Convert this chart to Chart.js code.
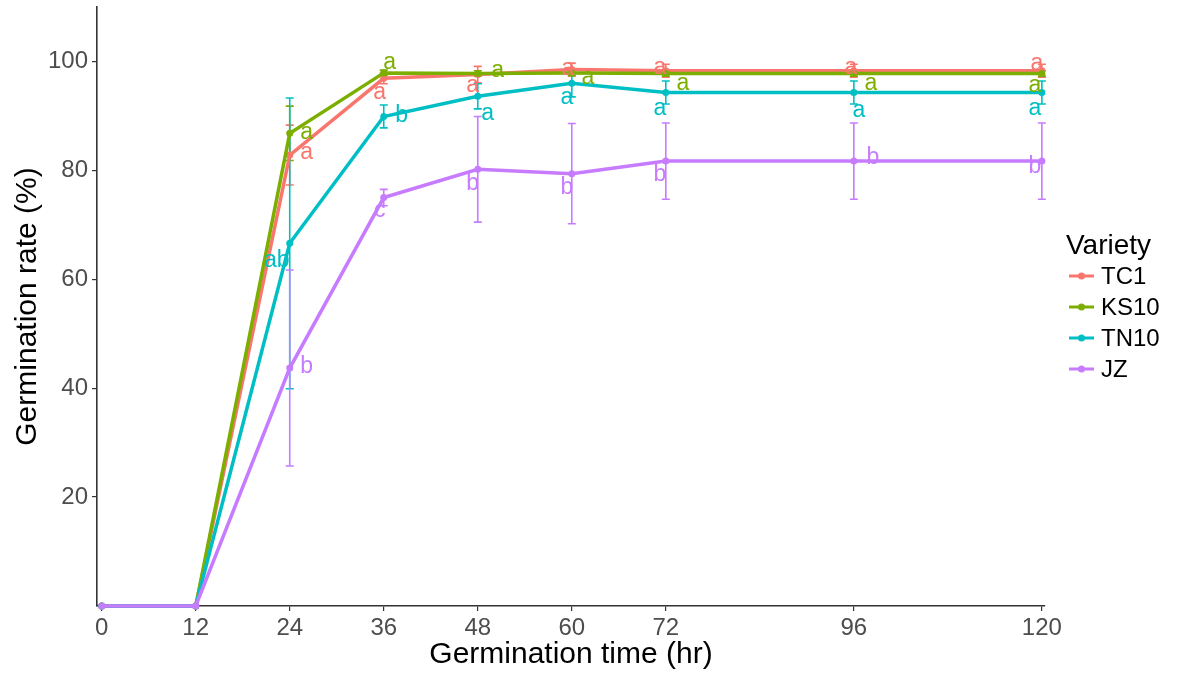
<!DOCTYPE html>
<html>
<head>
<meta charset="utf-8">
<title>Germination rate</title>
<script src="https://cdn.jsdelivr.net/npm/chart.js@4.4.1/dist/chart.umd.min.js"></script>
<style>
  html, body { margin: 0; padding: 0; background: #fff; }
  canvas { display: block; }
</style>
</head>
<body>
<canvas id="germChart" width="1187" height="673"></canvas>
<script>
// germination time (hr) and axis breaks
const hours = [0, 12, 24, 36, 48, 60, 72, 96, 120];
const xTicks = [0, 12, 24, 36, 48, 60, 72, 96, 120];
const yTicks = [20, 40, 60, 80, 100];

const varieties = ['TC1', 'KS10', 'TN10', 'JZ'];

// mean germination rate (%)
const tc1 = [0, 0, 82.8, 96.9, 97.6, 98.5, 98.3, 98.3, 98.3];
const ks10 = [0, 0, 86.8, 97.9, 97.8, 97.9, 97.8, 97.8, 97.8];
const tn10 = [0, 0, 66.6, 89.9, 93.6, 96.0, 94.3, 94.3, 94.3];
const jz = [0, 0, 43.7, 75.0, 80.2, 79.4, 81.7, 81.7, 81.7];

// standard deviation
const tc1Err = [0, 0, 5.5, 1.0, 1.5, 1.2, 1.2, 1.2, 1.2];
const ks10Err = [0, 0, 5.0, 0.5, 0.5, 0.5, 0.5, 0.5, 0.5];
const tn10Err = [0, 0, 26.7, 2.1, 2.3, 2.5, 2.1, 2.1, 2.1];
const jzErr = [0, 0, 18.0, 1.5, 9.7, 9.2, 7.0, 7.0, 7.0];

// significance letters
const tc1Sig = ['', '', 'a', 'a', 'a', 'a', 'a', 'a', 'a'];
const ks10Sig = ['', '', 'a', 'a', 'a', 'a', 'a', 'a', 'a'];
const tn10Sig = ['', '', 'ab', 'b', 'a', 'a', 'a', 'a', 'a'];
const jzSig = ['', '', 'b', 'c', 'b', 'b', 'b', 'b', 'b'];

// where each letter sits relative to its point (px)
const tc1Nudge = [null, null, [17, -2], [-4, 14], [-5, 11], [-4, -1], [-6, -3], [-3, -3], [-5, -7]];
const ks10Nudge = [null, null, [17, -1], [6, -10], [20, -3], [16, 5], [17, 10], [17, 10], [-7, 12]];
const tn10Nudge = [null, null, [-13, 17], [18, -1], [10, 17], [-5, 14], [-6, 16], [5, 18], [-7, 16]];
const jzNudge = [null, null, [17, -1], [-4, 13], [-5, 14], [-5, 14], [-6, 14], [19, -3], [-7, 6]];

const colors = ['#F8766D', '#7CAE00', '#00BFC4', '#C77CFF'];
const means = [tc1, ks10, tn10, jz];
const errs = [tc1Err, ks10Err, tn10Err, jzErr];
const sigs = [tc1Sig, ks10Sig, tn10Sig, jzSig];
const nudges = [tc1Nudge, ks10Nudge, tn10Nudge, jzNudge];

const FONT = '"Liberation Sans", Arial, Helvetica, sans-serif';

const datasets = varieties.map((name, i) => ({
    label: name,
    data: hours.map((h, j) => ({ x: h, y: means[i][j] })),
    borderColor: colors[i],
    backgroundColor: colors[i],
    borderWidth: 3.5,
    pointRadius: 3.5,
    pointBorderWidth: 0,
    pointHoverRadius: 3.5,
    tension: 0,
    clip: false,
    order: varieties.length - i
}));

// vertical error bars with caps, under the lines
const errorBars = {
    id: 'errorBars',
    beforeDatasetsDraw(chart) {
        const { ctx, scales: { x, y } } = chart;
        ctx.save();
        ctx.lineWidth = 1.6;
        means.forEach((series, i) => {
            ctx.strokeStyle = colors[i];
            series.forEach((v, j) => {
                const e = errs[i][j];
                if (!e) return;
                const px = x.getPixelForValue(hours[j]);
                const top = y.getPixelForValue(v + e);
                const bot = y.getPixelForValue(v - e);
                ctx.beginPath();
                ctx.moveTo(px, top); ctx.lineTo(px, bot);
                ctx.moveTo(px - 4, top); ctx.lineTo(px + 4, top);
                ctx.moveTo(px - 4, bot); ctx.lineTo(px + 4, bot);
                ctx.stroke();
            });
        });
        ctx.restore();
    }
};

// significance letters next to the points
const sigLetters = {
    id: 'sigLetters',
    afterDatasetsDraw(chart) {
        const { ctx, scales: { x, y } } = chart;
        ctx.save();
        ctx.font = '23px ' + FONT;
        ctx.textAlign = 'center';
        ctx.textBaseline = 'middle';
        sigs.forEach((letters, i) => {
            ctx.fillStyle = colors[i];
            letters.forEach((t, j) => {
                if (!t) return;
                const [dx, dy] = nudges[i][j];
                ctx.fillText(t, x.getPixelForValue(hours[j]) + dx, y.getPixelForValue(means[i][j]) + dy);
            });
        });
        ctx.restore();
    }
};

// legend on the right: title, then a line-and-dot key per variety
const varietyLegend = {
    id: 'varietyLegend',
    afterDraw(chart) {
        const ctx = chart.ctx;
        const left = 1066;
        ctx.save();
        ctx.fillStyle = '#000';
        ctx.textBaseline = 'middle';
        ctx.textAlign = 'left';
        ctx.font = '28px ' + FONT;
        ctx.fillText('Variety', left, 246);
        ctx.font = '24px ' + FONT;
        varieties.forEach((name, i) => {
            const cy = 276 + i * 31;
            ctx.strokeStyle = colors[i];
            ctx.fillStyle = colors[i];
            ctx.lineWidth = 3;
            ctx.beginPath();
            ctx.moveTo(left + 3, cy); ctx.lineTo(left + 28, cy);
            ctx.stroke();
            ctx.beginPath();
            ctx.arc(left + 15.5, cy, 3.5, 0, Math.PI * 2);
            ctx.fill();
            ctx.fillStyle = '#000';
            ctx.fillText(name, left + 35, cy + 1);
        });
        ctx.restore();
    }
};

new Chart(document.getElementById('germChart').getContext('2d'), {
    type: 'line',
    data: { datasets },
    options: {
        responsive: false,
        devicePixelRatio: 1,
        animation: false,
        layout: { padding: { left: 0, top: 7, right: 142, bottom: 0 } },
        plugins: {
            legend: { display: false },
            tooltip: { enabled: false }
        },
        scales: {
            x: {
                type: 'linear',
                min: -0.6,
                max: 120.4,
                afterBuildTicks: s => { s.ticks = xTicks.map(v => ({ value: v })); },
                afterFit: s => { s.height = 67; s.paddingLeft = 0; s.paddingRight = 0; },
                grid: { drawOnChartArea: false, drawTicks: true, tickLength: 5, color: '#333', lineWidth: 1.2 },
                border: { display: true, color: '#333', width: 1.6 },
                ticks: { color: '#4D4D4D', padding: 3, font: { family: FONT, size: 24 }, maxRotation: 0, autoSkip: false },
                title: { display: true, text: 'Germination time (hr)', color: '#000', font: { family: FONT, size: 30 }, padding: { top: 0, bottom: 0 } }
            },
            y: {
                min: 0,
                max: 110,
                afterBuildTicks: s => { s.ticks = yTicks.map(v => ({ value: v })); },
                afterFit: s => { s.width = 97; s.paddingTop = 0; s.paddingBottom = 0; },
                grid: { drawOnChartArea: false, drawTicks: true, tickLength: 5, color: '#333', lineWidth: 1.2 },
                border: { display: true, color: '#333', width: 1.6 },
                ticks: { color: '#4D4D4D', padding: 4, font: { family: FONT, size: 24 } },
                title: { display: true, text: 'Germination rate (%)', color: '#000', font: { family: FONT, size: 30 }, padding: { top: 10, bottom: 0 } }
            }
        }
    },
    plugins: [errorBars, sigLetters, varietyLegend]
});
</script>
</body>
</html>
